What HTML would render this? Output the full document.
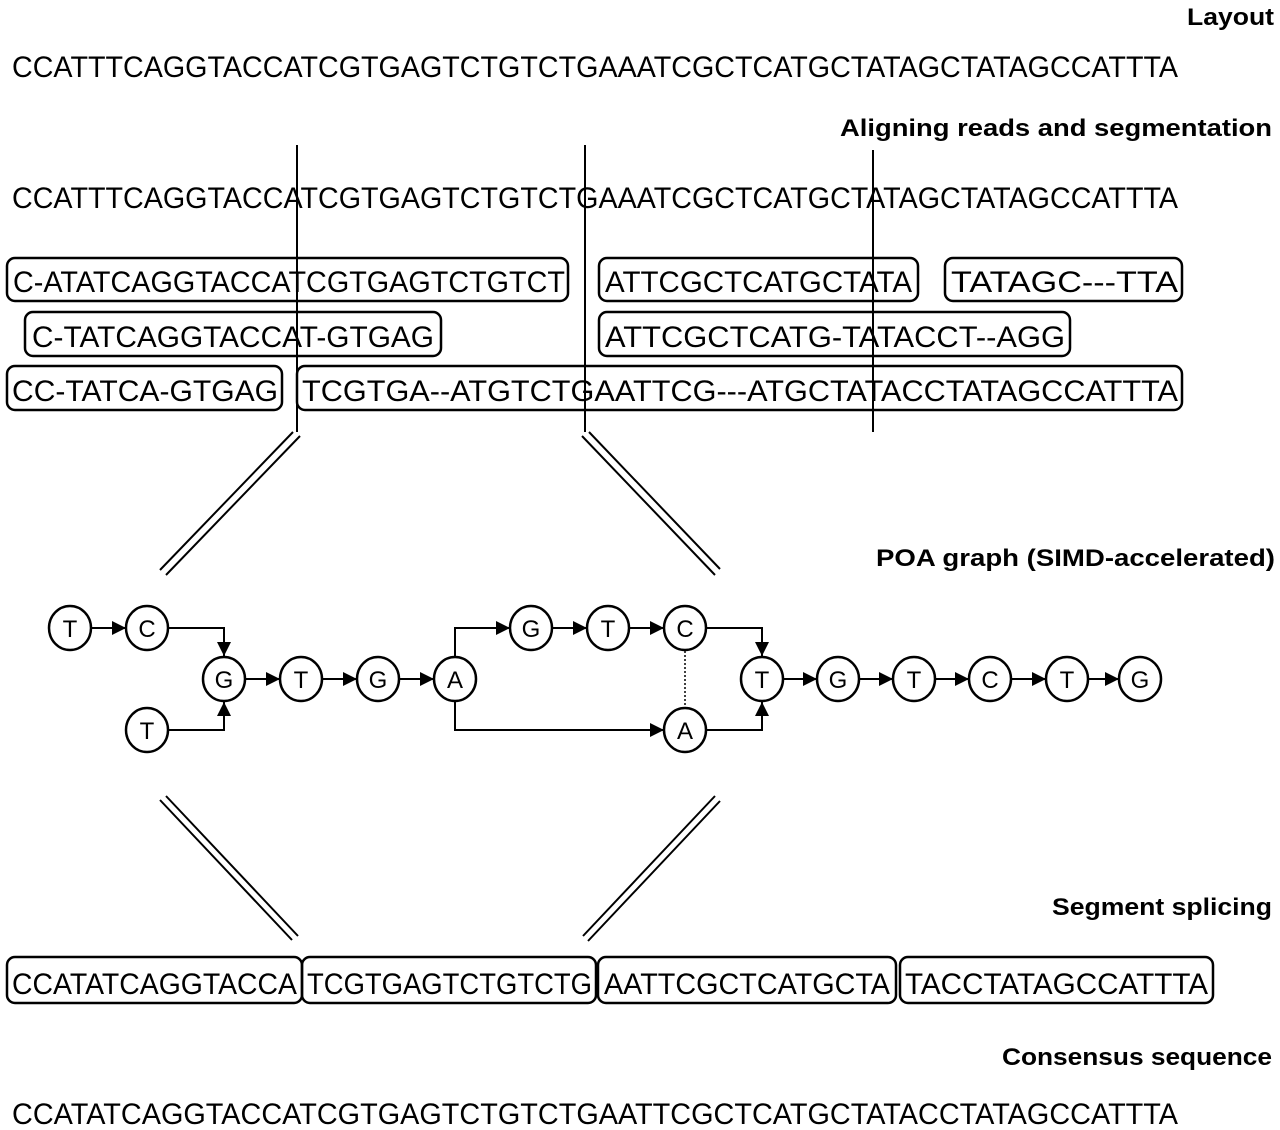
<!DOCTYPE html>
<html><head><meta charset="utf-8"><style>
html,body{margin:0;padding:0;background:#fff;}
svg{display:block;}
.s{font-family:"Liberation Sans",sans-serif;font-size:30px;fill:#000;}
.b{font-family:"Liberation Sans",sans-serif;font-size:24px;font-weight:bold;fill:#000;}
.n{font-family:"Liberation Sans",sans-serif;font-size:24px;fill:#000;text-anchor:middle;}
.bx{fill:none;stroke:#000;stroke-width:2.5;}
.l{stroke:#000;stroke-width:2;fill:none;}
</style></head><body>
<svg width="1280" height="1130" viewBox="0 0 1280 1130">
<defs><marker id="a" viewBox="0 0 10 10" refX="10" refY="5" markerWidth="14" markerHeight="14" markerUnits="userSpaceOnUse" orient="auto"><path d="M0,0L10,5L0,10z" fill="#000"/></marker></defs>

<text class="b" x="1187" y="25" textLength="87" lengthAdjust="spacingAndGlyphs">Layout</text>
<text class="s" x="12" y="77" textLength="1166" lengthAdjust="spacingAndGlyphs">CCATTTCAGGTACCATCGTGAGTCTGTCTGAAATCGCTCATGCTATAGCTATAGCCATTTA</text>

<text class="b" x="840" y="136" textLength="432" lengthAdjust="spacingAndGlyphs">Aligning reads and segmentation</text>
<text class="s" x="12" y="208" textLength="1166" lengthAdjust="spacingAndGlyphs">CCATTTCAGGTACCATCGTGAGTCTGTCTGAAATCGCTCATGCTATAGCTATAGCCATTTA</text>

<rect class="bx" x="7" y="258" width="561" height="43" rx="8"/>
<rect class="bx" x="599" y="258" width="319" height="43" rx="8"/>
<rect class="bx" x="945" y="258" width="237" height="43" rx="8"/>
<rect class="bx" x="25" y="312" width="416" height="44" rx="8"/>
<rect class="bx" x="599" y="312" width="471" height="44" rx="8"/>
<rect class="bx" x="7" y="366" width="275" height="44" rx="8"/>
<rect class="bx" x="297" y="366" width="885" height="44" rx="8"/>
<text class="s" x="13" y="292" textLength="552" lengthAdjust="spacingAndGlyphs">C-ATATCAGGTACCATCGTGAGTCTGTCT</text>
<text class="s" x="605" y="292" textLength="307" lengthAdjust="spacingAndGlyphs">ATTCGCTCATGCTATA</text>
<text class="s" x="951" y="292" textLength="227" lengthAdjust="spacingAndGlyphs">TATAGC---TTA</text>
<text class="s" x="32" y="347" textLength="402" lengthAdjust="spacingAndGlyphs">C-TATCAGGTACCAT-GTGAG</text>
<text class="s" x="605" y="347" textLength="460" lengthAdjust="spacingAndGlyphs">ATTCGCTCATG-TATACCT--AGG</text>
<text class="s" x="12" y="401" textLength="266" lengthAdjust="spacingAndGlyphs">CC-TATCA-GTGAG</text>
<text class="s" x="302" y="401" textLength="876" lengthAdjust="spacingAndGlyphs">TCGTGA--ATGTCTGAATTCG---ATGCTATACCTATAGCCATTTA</text>

<line class="l" x1="297" y1="145" x2="297" y2="432"/>
<line class="l" x1="585" y1="145" x2="585" y2="432"/>
<line class="l" x1="873" y1="150" x2="873" y2="432"/>

<g class="l">
<line x1="293" y1="432" x2="160" y2="570"/><line x1="300" y1="436" x2="166" y2="575"/>
<line x1="582" y1="436" x2="715" y2="575"/><line x1="589" y1="432" x2="720" y2="569"/>
<line x1="160" y1="800" x2="292" y2="940"/><line x1="166" y1="796" x2="298" y2="936"/>
<line x1="715" y1="796" x2="583" y2="936"/><line x1="720" y1="801" x2="588" y2="941"/>
</g>

<text class="b" x="876" y="566" textLength="399" lengthAdjust="spacingAndGlyphs">POA graph (SIMD-accelerated)</text>

<g class="l" marker-end="url(#a)">
<line x1="91" y1="628" x2="126" y2="628"/>
<polyline points="168,628 224,628 224,656"/>
<polyline points="168,730 224,730 224,702"/>
<line x1="245" y1="679" x2="280" y2="679"/>
<line x1="322" y1="679" x2="357" y2="679"/>
<line x1="399" y1="679" x2="434" y2="679"/>
<polyline points="455,656 455,628 510,628"/>
<polyline points="455,702 455,730 664,730"/>
<line x1="552" y1="628" x2="587" y2="628"/>
<line x1="629" y1="628" x2="664" y2="628"/>
<polyline points="706,628 762,628 762,656"/>
<polyline points="706,730 762,730 762,702"/>
<line x1="783" y1="679" x2="817" y2="679"/>
<line x1="859" y1="679" x2="893" y2="679"/>
<line x1="935" y1="679" x2="969" y2="679"/>
<line x1="1011" y1="679" x2="1046" y2="679"/>
<line x1="1088" y1="679" x2="1119" y2="679"/>
</g>
<line x1="685" y1="651" x2="685" y2="707" stroke="#000" stroke-width="1.5" stroke-dasharray="2,2"/>

<g fill="#fff" stroke="#000" stroke-width="2.5">
<ellipse cx="70" cy="628" rx="21" ry="22"/><ellipse cx="147" cy="628" rx="21" ry="22"/>
<ellipse cx="147" cy="730" rx="21" ry="22"/>
<ellipse cx="224" cy="679" rx="21" ry="22"/><ellipse cx="301" cy="679" rx="21" ry="22"/>
<ellipse cx="378" cy="679" rx="21" ry="22"/><ellipse cx="455" cy="679" rx="21" ry="22"/>
<ellipse cx="531" cy="628" rx="21" ry="22"/><ellipse cx="608" cy="628" rx="21" ry="22"/>
<ellipse cx="685" cy="628" rx="21" ry="22"/><ellipse cx="685" cy="730" rx="21" ry="22"/>
<ellipse cx="762" cy="679" rx="21" ry="22"/><ellipse cx="838" cy="679" rx="21" ry="22"/>
<ellipse cx="914" cy="679" rx="21" ry="22"/><ellipse cx="990" cy="679" rx="21" ry="22"/>
<ellipse cx="1067" cy="679" rx="21" ry="22"/><ellipse cx="1140" cy="679" rx="21" ry="22"/>
</g>
<g class="n">
<text x="70" y="637">T</text><text x="147" y="637">C</text><text x="147" y="739">T</text>
<text x="224" y="688">G</text><text x="301" y="688">T</text><text x="378" y="688">G</text><text x="455" y="688">A</text>
<text x="531" y="637">G</text><text x="608" y="637">T</text><text x="685" y="637">C</text><text x="685" y="739">A</text>
<text x="762" y="688">T</text><text x="838" y="688">G</text><text x="914" y="688">T</text><text x="990" y="688">C</text>
<text x="1067" y="688">T</text><text x="1140" y="688">G</text>
</g>

<text class="b" x="1052" y="915" textLength="220" lengthAdjust="spacingAndGlyphs">Segment splicing</text>
<rect class="bx" x="7" y="957" width="295" height="46" rx="8"/>
<rect class="bx" x="302" y="957" width="294" height="46" rx="8"/>
<rect class="bx" x="598" y="957" width="298" height="46" rx="8"/>
<rect class="bx" x="900" y="957" width="313" height="46" rx="8"/>
<text class="s" x="12" y="994" textLength="285" lengthAdjust="spacingAndGlyphs">CCATATCAGGTACCA</text>
<text class="s" x="307" y="994" textLength="285" lengthAdjust="spacingAndGlyphs">TCGTGAGTCTGTCTG</text>
<text class="s" x="604" y="994" textLength="286" lengthAdjust="spacingAndGlyphs">AATTCGCTCATGCTA</text>
<text class="s" x="905" y="994" textLength="303" lengthAdjust="spacingAndGlyphs">TACCTATAGCCATTTA</text>

<text class="b" x="1002" y="1065" textLength="270" lengthAdjust="spacingAndGlyphs">Consensus sequence</text>
<text class="s" x="12" y="1124" textLength="1166" lengthAdjust="spacingAndGlyphs">CCATATCAGGTACCATCGTGAGTCTGTCTGAATTCGCTCATGCTATACCTATAGCCATTTA</text>
</svg>
</body></html>
